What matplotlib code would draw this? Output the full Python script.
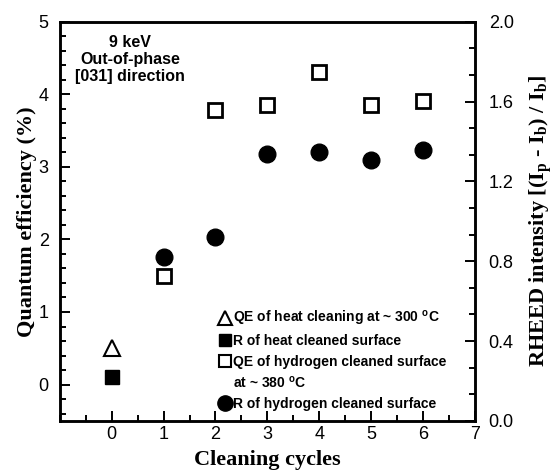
import matplotlib
matplotlib.use('Agg')
import matplotlib.pyplot as plt
from matplotlib.lines import Line2D
from matplotlib.ticker import MultipleLocator

plt.rcParams['font.family'] = 'Liberation Sans'
plt.rcParams['mathtext.fontset'] = 'custom'
plt.rcParams['mathtext.rm'] = 'Liberation Serif:bold'
plt.rcParams['mathtext.sf'] = 'Liberation Sans:bold'

# QE (%), left axis
heat_qe_x = [0]
heat_qe = [0.5]
h_qe_x = [1, 2, 3, 4, 5, 6]
h_qe = [1.5, 3.79, 3.85, 4.31, 3.85, 3.91]

# RHEED intensity, right axis
heat_r_x = [0]
heat_r = [0.22]
h_r_x = [1, 2, 3, 4, 5, 6]
h_r = [0.82, 0.92, 1.34, 1.35, 1.31, 1.36]

fig = plt.figure(figsize=(5.54, 4.76), dpi=100)
ax = fig.add_axes([0.108, 0.116, 0.749, 0.838])
ax2 = ax.twinx()

ax.plot(heat_qe_x, heat_qe, ls='none', marker='^', ms=11, mfc='white', mec='black', mew=1.5)
ax.plot(h_qe_x, h_qe, ls='none', marker='s', ms=10, mfc='white', mec='black', mew=2)
ax2.plot(heat_r_x, heat_r, ls='none', marker='s', ms=10, mfc='black', mec='black')
ax2.plot(h_r_x, h_r, ls='none', marker='o', ms=12, mfc='black', mec='black')

ax.set_xlim(-1, 7)
ax.set_ylim(-0.5, 5)
ax2.set_ylim(0, 2.0)

ax.set_xticks(range(0, 8))
ax.xaxis.set_minor_locator(MultipleLocator(0.5))
ax.set_yticks(range(0, 6))
ax.yaxis.set_minor_locator(MultipleLocator(0.2))
ax2.set_yticks([0.0, 0.4, 0.8, 1.2, 1.6, 2.0])
ax2.set_yticklabels(['0.0', '0.4', '0.8', '1.2', '1.6', '2.0'])
ax2.yaxis.set_minor_locator(MultipleLocator(0.4 / 3))

for a in (ax, ax2):
    for s in a.spines.values():
        s.set_linewidth(1.8)
    a.tick_params(which='both', direction='in', width=1.4, labelsize=13)
    a.tick_params(which='major', length=7)
    a.tick_params(which='minor', length=4)
ax.tick_params(axis='x', which='both', top=False, pad=4)
ax.tick_params(axis='y', which='both', right=False, pad=8)
ax2.tick_params(axis='y', pad=10)

ax.set_xlabel('Cleaning cycles', family='Liberation Serif', fontweight='bold', fontsize=16, labelpad=5)
ax.set_ylabel('Quantum efficiency (%)', family='Liberation Serif', fontweight='bold', fontsize=16, labelpad=1)
ax2.set_ylabel(r'RHEED intensity [(I$_{\mathrm{p}}$ - I$_{\mathrm{b}}$) / I$_{\mathrm{b}}$]',
               family='Liberation Serif', fontweight='bold', fontsize=16, labelpad=10)

ax.text(0.36, 4.82, '9 keV\nOut-of-phase\n[031] direction', ha='center', va='top',
        fontsize=11.5, fontweight='bold', linespacing=1.15)

handles = [
    Line2D([], [], ls='none', marker='^', ms=10, mfc='white', mec='black', mew=1.5),
    Line2D([], [], ls='none', marker='s', ms=9, mfc='black', mec='black'),
    Line2D([], [], ls='none', marker='s', ms=8.5, mfc='white', mec='black', mew=1.5),
    Line2D([], [], ls='none'),
    Line2D([], [], ls='none', marker='o', ms=11, mfc='black', mec='black'),
]
labels = [
    r'QE of heat cleaning at ~ 300 $^{\mathsf{o}}$C',
    'R of heat cleaned surface',
    'QE of hydrogen cleaned surface',
    r'at ~ 380 $^{\mathsf{o}}$C',
    'R of hydrogen cleaned surface',
]
ax.legend(handles, labels, loc='upper left', bbox_to_anchor=(0.385, 0.28), frameon=False,
          prop={'weight': 'bold', 'size': 10}, handlelength=0.8, handletextpad=0.2,
          labelspacing=0.45, borderaxespad=0, borderpad=0)

fig.savefig('out.png', dpi=100)
